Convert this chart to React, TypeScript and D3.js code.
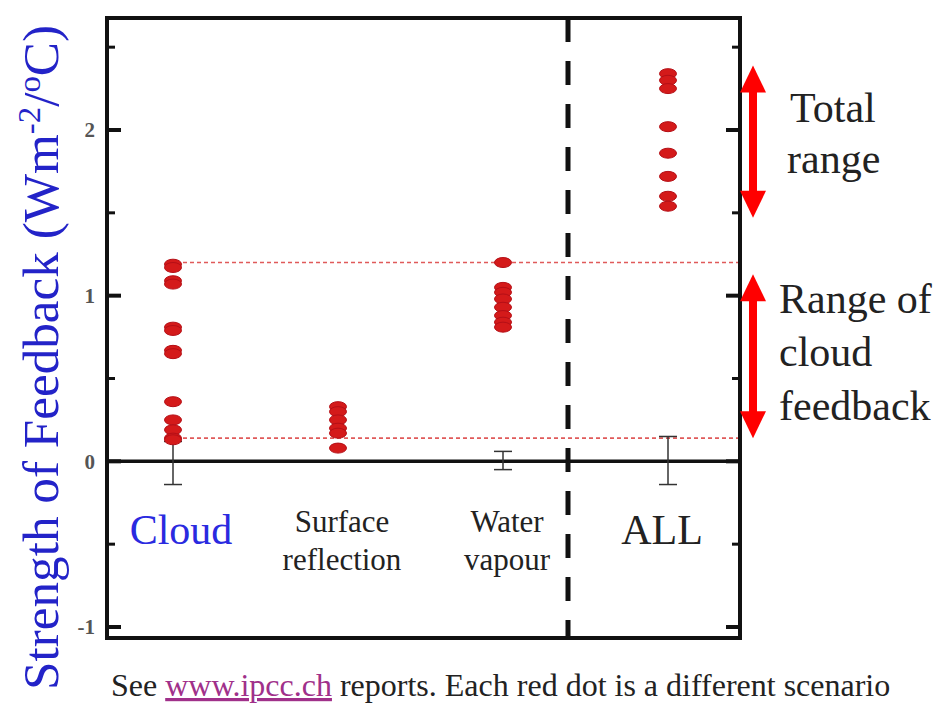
import React from "react";
import * as d3 from "d3";

// categories along the x axis
const categories = ["Cloud", "Surface reflection", "Water vapour", "ALL"];
const categoryLines = [["Cloud"], ["Surface", "reflection"], ["Water", "vapour"], ["ALL"]];

// red dots: one per model, per feedback
const cloudValues = [1.19, 1.17, 1.09, 1.07, 0.81, 0.79, 0.67, 0.65, 0.36, 0.25, 0.19, 0.14, 0.13];
const surfaceValues = [0.33, 0.3, 0.25, 0.2, 0.17, 0.08];
const waterValues = [1.2, 1.05, 1.02, 0.98, 0.93, 0.88, 0.84, 0.81];
const allValues = [2.34, 2.3, 2.25, 2.02, 1.86, 1.72, 1.6, 1.54];

// error bars (low, high), null = none
const errLow = [-0.14, null, -0.05, -0.14];
const errHigh = [0.12, null, 0.06, 0.15];

const yTicks = [-1, 0, 1, 2];
const yMinorTicks = [-0.5, 0.5, 1.5, 2.5];
const cloudRefLines = [1.2, 0.14];
const totalRangeArrow = [2.39, 1.47];
const cloudRangeArrow = [1.13, 0.14];

const W = 945;
const H = 704;
const frame = { left: 107, right: 740, top: 18, bottom: 638 };

export default function App() {
  const x = d3.scalePoint<string>().domain(categories).range([173, 668]);
  const y = d3.scaleLinear().domain([-1, 2]).range([627, 130]);

  const series = [cloudValues, surfaceValues, waterValues, allValues];
  const serif = "'Liberation Serif', 'DejaVu Serif', serif";
  const red = "#ff0000";

  const arrow = (ax: number, v: number[]) => {
    const y1 = y(v[0]);
    const y2 = y(v[1]);
    const hw = 13;
    const hh = 27;
    return (
      <g fill={red}>
        <rect x={ax - 4} y={y1 + hh - 2} width={8} height={y2 - y1 - 2 * hh + 4} />
        <path d={`M${ax},${y1} L${ax + hw},${y1 + hh} L${ax - hw},${y1 + hh} Z`} />
        <path d={`M${ax},${y2} L${ax + hw},${y2 - hh} L${ax - hw},${y2 - hh} Z`} />
      </g>
    );
  };

  return (
    <div style={{ position: "absolute", left: 0, top: 0 }}>
      <svg width={W} height={H} style={{ display: "block", background: "#fff" }}>
        {/* y axis title */}
        <text
          transform={`translate(58,${(25 + 690) / 2}) rotate(-90)`}
          textAnchor="middle"
          fontFamily={serif}
          fontSize={50}
          fill="#2323c8"
          textLength={665}
          lengthAdjust="spacingAndGlyphs"
        >
          Strength of Feedback (Wm
          <tspan dy={-18} fontSize={32}>-2</tspan>
          <tspan dy={18}>/</tspan>
          <tspan dy={-18} fontSize={32}>o</tspan>
          <tspan dy={18}>C)</tspan>
        </text>

        {/* red dotted reference lines */}
        {cloudRefLines.map((v) => (
          <line
            key={v}
            x1={x("Cloud")! + 10}
            x2={frame.right}
            y1={y(v)}
            y2={y(v)}
            stroke="#e05a5a"
            strokeWidth={1.6}
            strokeDasharray="4,3"
          />
        ))}

        {/* frame */}
        <rect
          x={frame.left}
          y={frame.top}
          width={frame.right - frame.left}
          height={frame.bottom - frame.top}
          fill="none"
          stroke="#111"
          strokeWidth={4}
        />

        {/* ticks on left and right */}
        {yTicks.map((t) => (
          <g key={t}>
            <line x1={frame.left} x2={frame.left + 14} y1={y(t)} y2={y(t)} stroke="#111" strokeWidth={4} />
            <line x1={frame.right - 14} x2={frame.right} y1={y(t)} y2={y(t)} stroke="#111" strokeWidth={4} />
            <text
              x={95}
              y={y(t)}
              dy="0.35em"
              textAnchor="end"
              fontFamily={serif}
              fontWeight="bold"
              fontSize={21}
              fill="#555"
            >
              {t}
            </text>
          </g>
        ))}
        {yMinorTicks.map((t) => (
          <g key={t}>
            <line x1={frame.left} x2={frame.left + 8} y1={y(t)} y2={y(t)} stroke="#111" strokeWidth={3} />
            <line x1={frame.right - 8} x2={frame.right} y1={y(t)} y2={y(t)} stroke="#111" strokeWidth={3} />
          </g>
        ))}

        {/* zero line */}
        <line x1={frame.left} x2={frame.right} y1={y(0)} y2={y(0)} stroke="#111" strokeWidth={3.5} />

        {/* dashed separator before ALL */}
        <line
          x1={568}
          x2={568}
          y1={frame.top}
          y2={frame.bottom}
          stroke="#111"
          strokeWidth={5}
          strokeDasharray="24,19"
        />

        {/* error bars */}
        {categories.map((c, i) => {
          const lo = errLow[i];
          const hi = errHigh[i];
          if (lo == null || hi == null) return null;
          const cx = x(c)!;
          return (
            <g key={c} stroke="#333" strokeWidth={1.5}>
              <line x1={cx} x2={cx} y1={y(hi)} y2={y(lo)} />
              <line x1={cx - 9} x2={cx + 9} y1={y(hi)} y2={y(hi)} />
              <line x1={cx - 9} x2={cx + 9} y1={y(lo)} y2={y(lo)} />
            </g>
          );
        })}

        {/* red dots */}
        {series.map((vals, i) =>
          vals.map((v, j) => (
            <ellipse
              key={`${i}-${j}`}
              cx={x(categories[i])!}
              cy={y(v)}
              rx={8.5}
              ry={5}
              fill="#d41a1a"
              stroke="#b50f16"
              strokeWidth={1}
            />
          ))
        )}

        {/* category labels */}
        {categories.map((c, i) => {
          const lines = categoryLines[i];
          const cx = x(c)! + (i === 0 ? 8 : i === 1 ? 4 : i === 2 ? 4 : -6);
          if (lines.length === 1) {
            return (
              <text
                key={c}
                x={cx}
                y={544}
                textAnchor="middle"
                fontFamily={serif}
                fontSize={42}
                fill={i === 0 ? "#2a2ae0" : "#222"}
              >
                {lines[0]}
              </text>
            );
          }
          return (
            <text key={c} textAnchor="middle" fontFamily={serif} fontSize={31} fill="#222">
              <tspan x={cx} y={532}>{lines[0]}</tspan>
              <tspan x={cx} y={570}>{lines[1]}</tspan>
            </text>
          );
        })}

        {/* range arrows */}
        {arrow(753, totalRangeArrow)}
        {arrow(753, cloudRangeArrow)}

        <g fontFamily={serif} fontSize={42} fill="#222">
          <text x={790} y={122}>Total</text>
          <text x={787} y={173}>range</text>
          <text x={779} y={313}>Range of</text>
          <text x={779} y={366}>cloud</text>
          <text x={779} y={420}>feedback</text>
        </g>

        {/* footnote */}
        <text x={111} y={696} fontFamily={serif} fontSize={32} fill="#222">
          See{" "}
          <tspan fill="#a0308a" textDecoration="underline">www.ipcc.ch</tspan> reports. Each red dot is a different scenario
        </text>
      </svg>
    </div>
  );
}
